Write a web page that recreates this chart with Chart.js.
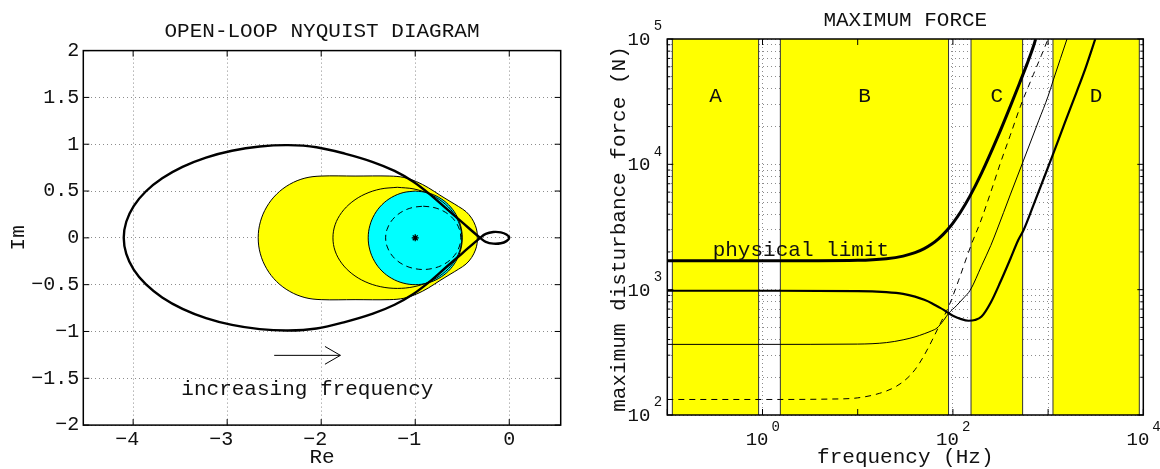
<!DOCTYPE html>
<html>
<head>
<meta charset="utf-8">
<script src="https://cdn.jsdelivr.net/npm/chart.js@4.4.1/dist/chart.umd.min.js"></script>
<style>
  html, body { margin: 0; padding: 0; background: #fff; }
  #wrap { position: relative; width: 1160px; height: 469px; }
  canvas { position: absolute; top: 0; }
  #nyq { left: 0; }
  #force { left: 580px; }
</style>
</head>
<body>
<div id="wrap">
  <canvas id="nyq" width="580" height="469"></canvas>
  <canvas id="force" width="580" height="469"></canvas>
</div>
<script>
// ---------- Nyquist diagram ----------
// upper half of the open-loop locus, from the left tip to the crossing point
const locusRe = [-4.1, -4.073, -3.994, -3.866, -3.691, -3.475, -3.225, -2.949, -2.654, -2.35, -2.05, -1.75, -1.45, -1.22, -1.02, -0.85, -0.69, -0.5, -0.31];
const locusIm = [0, 0.172, 0.339, 0.495, 0.636, 0.758, 0.857, 0.93, 0.975, 0.99, 0.968, 0.9, 0.81, 0.715, 0.6, 0.47, 0.33, 0.165, 0];
// small loop between the crossing point and the origin (upper half)
const loopRe = [-0.31, -0.25, -0.17, -0.09, -0.03, 0];
const loopIm = [0, 0.042, 0.062, 0.058, 0.035, 0];
// yellow region boundary (upper half)
const yellowRe = [-2.67, -2.647, -2.58, -2.474, -2.335, -2.173, -2.0, -1.64, -1.27, -1.12, -0.985, -0.86, -0.737, -0.63, -0.54, -0.46, -0.4, -0.36, -0.342, -0.34];
const yellowIm = [0, 0.171, 0.33, 0.467, 0.572, 0.638, 0.66, 0.66, 0.66, 0.645, 0.6, 0.535, 0.456, 0.39, 0.335, 0.28, 0.21, 0.13, 0.06, 0];
// thin closed contour (upper half)
const contourRe = [-1.875, -1.852, -1.783, -1.674, -1.533, -1.367, -1.19, -1.013, -0.848, -0.706, -0.597, -0.528, -0.505];
const contourIm = [0, 0.14, 0.27, 0.382, 0.468, 0.522, 0.54, 0.522, 0.468, 0.382, 0.27, 0.14, 0];
// cyan disk around -1 (upper half)
const diskRe = [-1.5, -1.483, -1.433, -1.354, -1.25, -1.129, -1, -0.871, -0.75, -0.646, -0.567, -0.517, -0.5];
const diskIm = [0, 0.129, 0.25, 0.354, 0.433, 0.483, 0.5, 0.483, 0.433, 0.354, 0.25, 0.129, 0];
// dashed contour (upper half)
const dashRe = [-1.315, -1.301, -1.261, -1.198, -1.115, -1.019, -0.915, -0.811, -0.715, -0.632, -0.569, -0.529, -0.515];
const dashIm = [0, 0.087, 0.169, 0.239, 0.293, 0.326, 0.338, 0.326, 0.293, 0.239, 0.169, 0.087, 0];
// critical point
const critRe = [-1];
const critIm = [0];
// frequency arrow
const arrowRe = [-2.5, -1.796];
const arrowIm = [-1.255, -1.255];
const headRe = [-1.96, -1.796, -1.96];
const headIm = [-1.16, -1.255, -1.35];

const nyqXTicks = [-4, -3, -2, -1, 0];
const nyqYTicks = [-2, -1.5, -1, -0.5, 0, 0.5, 1, 1.5, 2];

// ---------- maximum force ----------
const freqThick = [0.1, 1, 10, 20, 30, 40, 50, 60, 70, 80, 90, 100, 120, 150, 200, 300, 400, 500, 600, 700, 740];
const forceThick = [1700, 1700, 1717, 1768, 1853, 1972, 2125, 2312, 2533, 2788, 3077, 3400, 4148, 5525, 8500, 17000, 28900, 44200, 63000, 87000, 100000];
const freqMed = [0.1, 1, 10, 20, 30, 40, 50, 60, 70, 80, 90, 100, 120, 146, 170, 200, 250, 315, 400, 486, 553, 700, 1000, 1120, 1500, 2000, 2500, 3130];
const forceMed = [980, 980, 975, 955, 925, 880, 830, 780, 730, 690, 650, 620, 585, 565, 572, 610, 790, 1150, 1750, 2490, 2990, 4700, 9500, 11900, 21500, 38000, 60000, 100000];
const freqThin = [0.1, 1, 10, 20, 30, 40, 50, 60, 68, 80, 90, 110, 130, 152, 200, 250, 290, 400, 553, 800, 1000, 1135, 1350, 1580];
const forceThin = [366, 366, 368, 378, 398, 420, 445, 470, 494, 570, 646, 750, 860, 990, 1550, 2250, 2990, 5700, 10800, 22500, 35000, 47100, 70000, 100000];
const freqDash = [0.1, 1, 5, 10, 17, 25, 33, 40, 49, 60, 74, 90, 115, 141, 160, 194, 250, 315, 400, 510, 700, 850, 1000];
const forceDash = [133, 133, 134, 137, 149, 168, 196, 230, 292, 390, 540, 730, 1190, 1850, 2400, 3450, 6000, 10200, 17000, 28800, 52000, 74000, 100000];

// yellow frequency bands and their letters
const bandStart = [0.113, 1.54, 155, 1125];
const bandEnd = [0.91, 90, 540, 9080];
const bandNames = ['A', 'B', 'C', 'D'];
const bandNameForce = 34700;

const forceXDecades = [0.1, 1, 10, 100, 1000, 10000];
const forceXLabelExp = [0, 2, 4];
const forceYDecades = [100, 1000, 10000, 100000];
const forceYLabelExp = [2, 3, 4, 5];
const minorSteps = [2, 3, 4, 5, 6, 7, 8, 9];

const MONO = '"Liberation Mono", "DejaVu Sans Mono", monospace';

function pts(re, im) {
  return re.map((r, i) => ({x: r, y: im[i]}));
}

// reopen a closed path at index k so the spline joint sits on a smooth stretch
function reopen(path, k) {
  const body = path.slice(0, -1);
  return body.slice(k).concat(body.slice(0, k), [body[k]]);
}

// upper half left->right, then the mirrored lower half back to the start
function closedShape(re, im, k) {
  const upper = pts(re, im);
  const lower = pts(re, im.map(v => -v)).reverse().slice(1);
  return reopen(upper.concat(lower), k);
}

function locusPath() {
  const lowerArc = pts(locusRe, locusIm.map(v => -v));
  const upperLoop = pts(loopRe, loopIm).slice(1);
  const lowerLoop = pts(loopRe, loopIm.map(v => -v)).reverse().slice(1);
  const upperArc = pts(locusRe, locusIm).reverse().slice(1);
  return reopen(lowerArc.concat(upperLoop, lowerLoop, upperArc), 16);
}

function fmt(v) {
  return (v < 0 ? '\u2212' : '') + String(Math.abs(v));
}

function line(ctx, x0, y0, x1, y1) {
  ctx.beginPath();
  ctx.moveTo(x0, y0);
  ctx.lineTo(x1, y1);
  ctx.stroke();
}

// box with inward ticks on all four sides
function drawBox(chart, isMajor) {
  const {ctx, chartArea: a, scales: {x, y}} = chart;
  ctx.save();
  ctx.strokeStyle = '#000';
  ctx.lineWidth = 1;
  x.ticks.forEach(t => {
    const px = x.getPixelForValue(t.value);
    const len = isMajor(t.value) ? 6 : 3;
    line(ctx, px, a.bottom, px, a.bottom - len);
    line(ctx, px, a.top, px, a.top + len);
  });
  y.ticks.forEach(t => {
    const py = y.getPixelForValue(t.value);
    const len = isMajor(t.value) ? 6 : 3;
    line(ctx, a.left, py, a.left + len, py);
    line(ctx, a.right, py, a.right - len, py);
  });
  ctx.lineWidth = 1.5;
  ctx.strokeRect(a.left, a.top, a.right - a.left, a.bottom - a.top);
  ctx.restore();
}

function text(ctx, s, x, y, size, align, rot) {
  ctx.save();
  ctx.font = size + 'px ' + MONO;
  ctx.fillStyle = '#111';
  ctx.textAlign = align || 'center';
  ctx.textBaseline = 'middle';
  ctx.translate(x, y);
  if (rot) ctx.rotate(rot);
  ctx.fillText(s, 0, 0);
  ctx.restore();
}

function setTicks(values) {
  return scale => { scale.ticks = values.map(v => ({value: v})); };
}

const nyqDecor = {
  id: 'nyqDecor',
  afterDraw(chart) {
    const {ctx, chartArea: a, scales: {x, y}} = chart;
    drawBox(chart, () => true);
    ctx.save();
    ctx.font = '20px ' + MONO;
    const cw = ctx.measureText('0').width;
    ctx.restore();
    nyqYTicks.forEach(v => text(ctx, fmt(v), a.left - 4, y.getPixelForValue(v), 20, 'right'));
    nyqXTicks.forEach(v => text(ctx, fmt(v), x.getPixelForValue(v) + cw / 2, a.bottom + 15, 20, 'right'));
    const cx = (a.left + a.right) / 2;
    text(ctx, 'OPEN-LOOP NYQUIST DIAGRAM', cx, a.top - 19, 21);
    text(ctx, 'Re', cx, a.bottom + 32, 21);
    text(ctx, 'Im', 18.5, y.getPixelForValue(0), 21, 'center', -Math.PI / 2);
    text(ctx, 'increasing frequency', x.getPixelForValue(-2.147), y.getPixelForValue(-1.615), 21);
  }
};

const bandFill = {
  id: 'bandFill',
  beforeDatasetsDraw(chart) {
    const {ctx, chartArea: a, scales: {x}} = chart;
    ctx.save();
    bandStart.forEach((lo, i) => {
      const x0 = x.getPixelForValue(lo);
      const x1 = x.getPixelForValue(bandEnd[i]);
      ctx.fillStyle = '#ffff00';
      ctx.fillRect(x0, a.top, x1 - x0, a.bottom - a.top);
      ctx.strokeStyle = '#333';
      ctx.lineWidth = 1;
      line(ctx, x0, a.top, x0, a.bottom);
      line(ctx, x1, a.top, x1, a.bottom);
    });
    ctx.restore();
  }
};

const isDecade = v => Math.abs(Math.log10(v) - Math.round(Math.log10(v))) < 1e-9;

const forceDecor = {
  id: 'forceDecor',
  afterDraw(chart) {
    const {ctx, chartArea: a, scales: {x, y}} = chart;
    drawBox(chart, isDecade);
    forceYLabelExp.forEach(e => {
      const py = y.getPixelForValue(Math.pow(10, e));
      text(ctx, '10', a.left - 17, py + 1, 19, 'right');
      text(ctx, String(e), a.left - 13.5, py - 12.5, 14, 'left');
    });
    forceXLabelExp.forEach(e => {
      const px = x.getPixelForValue(Math.pow(10, e));
      text(ctx, '10', px + 6, a.bottom + 25, 19, 'right');
      text(ctx, String(e), px + 9, a.bottom + 12, 14, 'left');
    });
    bandNames.forEach((n, i) => {
      const mid = Math.sqrt(bandStart[i] * bandEnd[i]);
      text(ctx, n, x.getPixelForValue(mid), y.getPixelForValue(bandNameForce), 21);
    });
    text(ctx, 'physical limit', x.getPixelForValue(2.53), y.getPixelForValue(2070), 21);
    const cx = (a.left + a.right) / 2;
    text(ctx, 'MAXIMUM FORCE', cx, a.top - 19, 21);
    text(ctx, 'frequency (Hz)', cx, a.bottom + 42, 21);
    text(ctx, 'maximum disturbance force (N)', 39, (a.top + a.bottom) / 2 + 2, 21, 'center', -Math.PI / 2);
  }
};

const gridDots = {color: '#8c8c8c', lineWidth: 1, drawTicks: false};
const gridBorder = {display: false, dash: [1, 3]};

function outline(data, width, dash) {
  return {data, showLine: true, borderColor: '#000', borderWidth: width, borderDash: dash || [], pointRadius: 0, tension: 0.35};
}

function filledShape(data, fillColor) {
  return Object.assign(outline(data, 1), {fill: 'shape', backgroundColor: fillColor});
}

new Chart(document.getElementById('nyq'), {
  type: 'scatter',
  data: {
    datasets: [
      outline(locusPath(), 2.4),
      {data: pts(critRe, critIm), pointStyle: 'star', pointRadius: 3.5, borderColor: '#000', borderWidth: 1.3, backgroundColor: '#000'},
      {data: pts(arrowRe, arrowIm), showLine: true, borderColor: '#000', borderWidth: 1, pointRadius: 0},
      {data: pts(headRe, headIm), showLine: true, borderColor: '#000', borderWidth: 1, pointRadius: 0},
      outline(closedShape(dashRe, dashIm, 6), 1, [6, 4]),
      outline(closedShape(contourRe, contourIm, 6), 1),
      filledShape(closedShape(diskRe, diskIm, 6), '#00ffff'),
      filledShape(closedShape(yellowRe, yellowIm, 7), '#ffff00')
    ]
  },
  options: {
    responsive: false,
    animation: false,
    events: [],
    layout: {padding: {left: 83.3, top: 50.6, right: 19.3, bottom: 43.9}},
    plugins: {legend: {display: false}, tooltip: {enabled: false}},
    scales: {
      x: {
        type: 'linear', min: -4.53, max: 0.547,
        afterBuildTicks: setTicks(nyqXTicks),
        afterFit: s => { s.height = 0; },
        ticks: {display: false}, grid: gridDots, border: gridBorder
      },
      y: {
        type: 'linear', min: -2, max: 2,
        afterBuildTicks: setTicks(nyqYTicks),
        afterFit: s => { s.width = 0; },
        ticks: {display: false}, grid: gridDots, border: gridBorder
      }
    }
  },
  plugins: [nyqDecor]
});

const yGrid = [];
forceYDecades.forEach(d => {
  yGrid.push(d);
  if (d < 100000) minorSteps.forEach(m => yGrid.push(d * m));
});

function curve(f, F, width, dash) {
  return {data: pts(f, F), showLine: true, borderColor: '#000', borderWidth: width, borderDash: dash || [], pointRadius: 0, cubicInterpolationMode: 'monotone'};
}

new Chart(document.getElementById('force'), {
  type: 'scatter',
  data: {
    datasets: [
      curve(freqThick, forceThick, 3),
      curve(freqMed, forceMed, 2.2),
      curve(freqThin, forceThin, 1),
      curve(freqDash, forceDash, 1, [6, 5])
    ]
  },
  options: {
    responsive: false,
    animation: false,
    events: [],
    layout: {padding: {left: 87.3, top: 39, right: 16.7, bottom: 54}},
    plugins: {legend: {display: false}, tooltip: {enabled: false}},
    scales: {
      x: {
        type: 'logarithmic', min: 0.1, max: 10000,
        afterBuildTicks: setTicks(forceXDecades),
        afterFit: s => { s.height = 0; },
        ticks: {display: false}, grid: gridDots, border: gridBorder
      },
      y: {
        type: 'logarithmic', min: 100, max: 100000,
        afterBuildTicks: setTicks(yGrid),
        afterFit: s => { s.width = 0; },
        ticks: {display: false}, grid: gridDots, border: gridBorder
      }
    }
  },
  plugins: [bandFill, forceDecor]
});
</script>
</body>
</html>
